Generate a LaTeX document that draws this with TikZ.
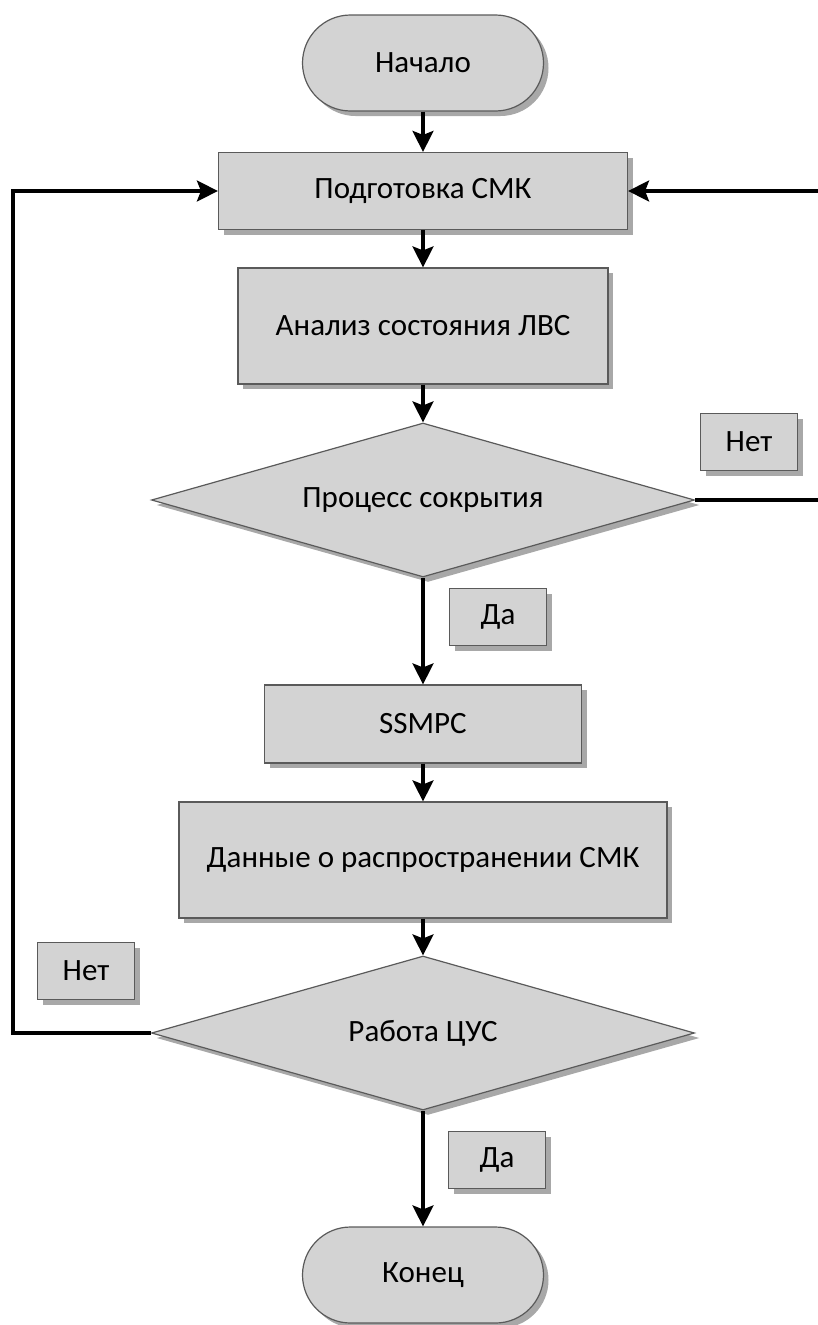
\documentclass[tikz,border=0pt]{standalone}
\usepackage{fontspec}
\setmainfont{Carlito}
\usetikzlibrary{shapes.geometric,shadows,arrows.meta}
\definecolor{boxfill}{HTML}{D3D3D3}
\definecolor{boxborder}{HTML}{5A5A5A}
\definecolor{shadowgray}{HTML}{A8A8A8}
\begin{document}
\begin{tikzpicture}[x=1pt,y=-1pt,
 base/.style={draw=boxborder, line width=1.2pt, fill=boxfill, text=black,
   font=\fontsize{31}{37}\selectfont, inner sep=0pt,
   drop shadow={shadow xshift=5pt, shadow yshift=-5pt, fill=shadowgray, opacity=1}},
 proc/.style={base, rectangle},
 term/.style={base, rectangle, rounded corners=48pt, minimum width=241pt, minimum height=96pt},
 dec/.style={base, diamond, aspect=3.53, minimum width=543pt, minimum height=154pt},
 lbl/.style={base, rectangle, minimum width=97pt, minimum height=57pt},
 arr/.style={line width=3.2pt, -{Stealth[length=21pt,width=21pt,inset=4pt]}},
 ln/.style={line width=3.2pt}
]
\useasboundingbox (0,0) rectangle (817,1325);

\node[term] (start) at (423,63) {Начало};
\node[proc, minimum width=409pt, minimum height=77pt] (prep) at (423,191) {Подготовка СМК};
\node[proc, minimum width=370pt, minimum height=116pt] (anal) at (423,326) {Анализ состояния ЛВС};
\node[dec] (d1) at (423,500) {Процесс сокрытия};
\node[proc, minimum width=317pt, minimum height=78pt] (ssmpc) at (423,724) {SSMPC};
\node[proc, minimum width=488pt, minimum height=116pt] (data) at (423,860) {Данные о распространении СМК};
\node[dec] (d2) at (423,1033) {Работа ЦУС};
\node[term] (end) at (423,1275) {Конец};

\node[lbl] (no1) at (749,442) {Нет};
\node[lbl] (yes1) at (498,617) {Да};
\node[lbl] (no2) at (86,971) {Нет};
\node[lbl] (yes2) at (497,1160) {Да};

\coordinate (lft) at (13,191);
\coordinate (rgt) at (821,191);

\draw[arr] (start) -- (prep);
\draw[arr] (prep) -- (anal);
\draw[arr] (anal) -- (d1);
\draw[arr] (d1) -- (ssmpc);
\draw[arr] (ssmpc) -- (data);
\draw[arr] (data) -- (d2);
\draw[arr] (d2) -- (end);
\draw[arr, line join=miter] (d2.west) -| (lft) -- (prep.west);
\draw[arr, line join=miter] (d1.east) -| (rgt) -- (prep.east);
\end{tikzpicture}
\end{document}
